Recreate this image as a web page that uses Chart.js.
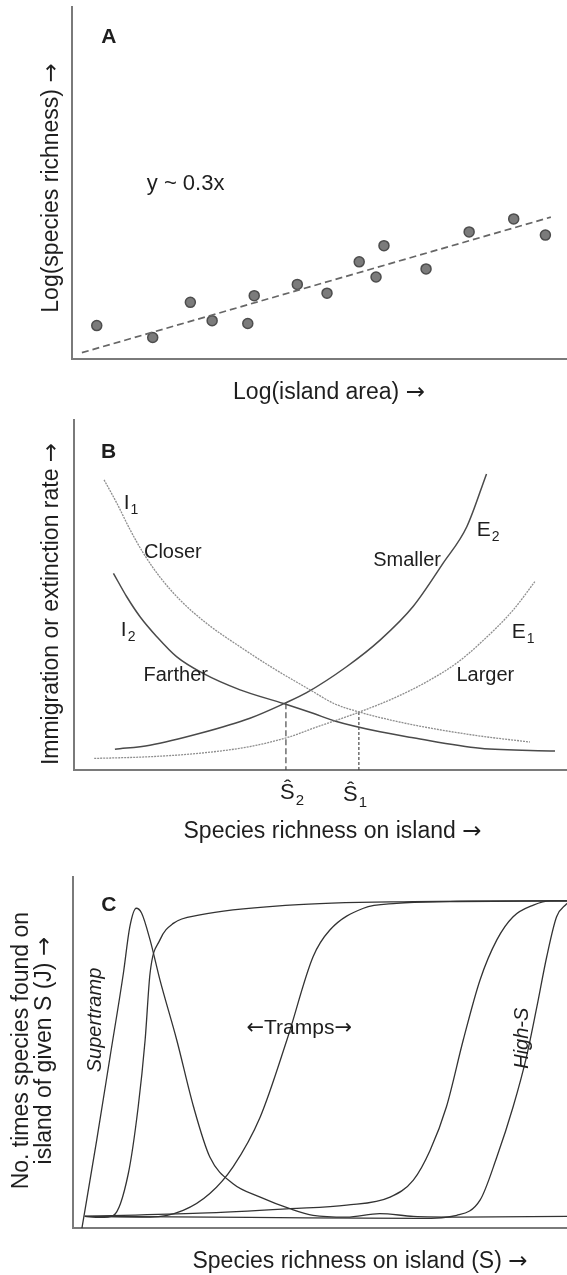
<!DOCTYPE html>
<html>
<head>
<meta charset="utf-8">
<script src="https://cdn.jsdelivr.net/npm/chart.js@4.4.1/dist/chart.umd.min.js"></script>
<style>
  html, body { margin: 0; padding: 0; background: #fff; overflow: hidden; }
  #wrap { position: relative; width: 567px; height: 1275px; overflow: hidden; }
  canvas { position: absolute; left: 0; }
</style>
</head>
<body>
<div id="wrap">
  <canvas id="chartA" width="660" height="412" style="top:0"></canvas>
  <canvas id="chartB" width="660" height="433" style="top:412px"></canvas>
  <canvas id="chartC" width="660" height="430" style="top:845px"></canvas>
</div>
<script>
// ---- Panel A: species-area scatter (arbitrary log units) ----
const areaLog = [5.0, 16.3, 23.9, 28.3, 35.5, 36.8, 45.5, 51.5, 58.0, 61.4, 63.0, 71.5, 80.2, 89.2, 95.6];
const richLog = [9.5, 6.1, 16.1, 10.9, 10.1, 18.0, 21.2, 18.7, 27.6, 23.3, 32.2, 25.6, 36.1, 39.8, 35.2];
const fitX = [2.0, 96.7];
const fitY = [1.8, 40.3];

// ---- Panel B: immigration / extinction curves ----
const i1X = [6.1, 8.7, 11.4, 14.1, 17.4, 21.5, 26.9, 33.7, 40.4, 47.9, 52.9, 57.8, 65.1, 72.2, 82.4, 92.5];
const i1Y = [82.9, 76.2, 68.6, 61.9, 55.2, 48.6, 41.9, 35.2, 29.1, 22.9, 18.9, 16.6, 14.0, 12.0, 9.7, 8.0];
const i2X = [8.0, 10.7, 13.4, 16.8, 20.8, 26.2, 33.7, 42.5, 48.5, 52.9, 62.1, 68.8, 82.4, 97.6];
const i2Y = [56.2, 49.5, 43.8, 38.1, 32.4, 27.6, 22.9, 19.0, 16.2, 14.0, 10.9, 9.2, 6.2, 5.4];
const e2X = [8.3, 15.4, 25.6, 35.7, 42.8, 47.2, 55.3, 62.1, 68.8, 74.9, 79.7, 83.7];
const e2Y = [5.9, 7.1, 10.5, 14.8, 19.1, 22.1, 29.5, 37.1, 46.7, 59.1, 69.5, 84.6];
const e1X = [4.1, 15.4, 25.6, 35.7, 43.8, 48.5, 57.8, 65.5, 72.2, 77.6, 82.4, 89.1, 93.5];
const e1Y = [3.3, 3.8, 4.8, 6.7, 9.5, 11.9, 16.5, 20.9, 25.7, 30.5, 36.2, 45.7, 53.8];
const eqX = [43.0, 57.8];          // equilibria S2, S1
const eqY = [19.1, 16.6];
const eqLabels = ['Ŝ', 'Ŝ'];
const eqSubs = ['2', '1'];

// ---- Panel C: incidence functions ----
const superX = [1.8, 4.8, 7.5, 10.2, 11.5, 12.8, 13.9, 15.6, 17.6, 21.0, 24.4, 27.7, 32.4, 37.9, 43.9, 48.6, 55.4, 62.1, 68.9, 78.3, 100];
const superY = [0, 25.1, 48.8, 72.6, 85.8, 91.1, 89.7, 82.1, 70.7, 53.6, 34.6, 20.3, 12.7, 8.9, 5.6, 3.7, 3.2, 4.2, 3.4, 3.2, 3.4];
const tramp1X = [2.4, 5.5, 8.2, 11.2, 13.2, 14.6, 15.6, 17.6, 20.3, 25.7, 43.9, 68.9, 95.9, 100];
const tramp1Y = [3.4, 3.1, 3.7, 15.6, 34.6, 53.6, 72.6, 82.1, 86.8, 89.2, 92.0, 93.0, 93.2, 93.2];
const tramp2X = [2.4, 15.6, 22.3, 27.7, 32.4, 37.9, 43.3, 48.6, 52.0, 58.8, 65.5, 76.3, 100];
const tramp2Y = [3.4, 3.2, 5.1, 9.9, 17.5, 31.7, 53.6, 77.3, 84.9, 91.1, 92.5, 93.0, 93.2];
const tramp3X = [2.4, 25.7, 43.9, 55.4, 64.2, 68.9, 72.3, 75.6, 79.0, 82.4, 85.8, 89.1, 93.2, 96.6, 100];
const tramp3Y = [3.4, 4.3, 5.6, 6.6, 8.9, 13.7, 22.2, 34.6, 53.6, 70.7, 82.1, 88.7, 92.0, 93.2, 93.2];
const highX = [2.4, 35.8, 70.2, 77.7, 82.4, 85.8, 89.1, 91.8, 93.9, 95.9, 97.9, 100];
const highY = [3.4, 3.1, 2.8, 3.7, 8.0, 20.3, 34.6, 48.8, 63.0, 77.3, 88.7, 92.5];

const FONT = "'Liberation Sans', Arial, Helvetica, sans-serif";
const ARROW_FONT = "'DejaVu Sans', sans-serif";
const TEXT = '#1e1e1e';
const AXIS = '#7a7a7a';
const DARK = '#4a4a4a';
const LIGHT = '#8e8e8e';

const pts = (xs, ys) => xs.map((x, i) => ({ x: x, y: ys[i] }));

// text with arrows drawn in a font whose arrow glyph is bigger
function drawMixed(ctx, text, size, style, align) {
  const runs = text.split(/([←→])/).filter(Boolean).map(s => ({
    s: s, font: (/[←→]/.test(s) ? '' : style) + ' ' + size + 'px ' + (/[←→]/.test(s) ? ARROW_FONT : FONT)
  }));
  let total = 0;
  runs.forEach(r => { ctx.font = r.font; r.w = ctx.measureText(r.s).width; total += r.w; });
  let x = align === 'center' ? -total / 2 : 0;
  ctx.textAlign = 'left';
  runs.forEach(r => { ctx.font = r.font; ctx.fillText(r.s, x, 0); x += r.w; });
  return total;
}

// free text labels at data coordinates (panel letters, curve names)
function notes(items) {
  return {
    id: 'notes',
    afterDraw(chart) {
      const { ctx, scales: { x, y } } = chart;
      items.forEach(n => {
        ctx.save();
        ctx.translate(x.getPixelForValue(n.x), y.getPixelForValue(n.y));
        if (n.rotate) ctx.rotate(-Math.PI / 2);
        ctx.fillStyle = TEXT;
        ctx.textBaseline = 'middle';
        const w = drawMixed(ctx, n.text, n.size, (n.style || '') + ' ' + (n.weight || ''), n.align);
        if (n.sub) {
          ctx.font = Math.round(n.size * 0.66) + 'px ' + FONT;
          ctx.fillText(n.sub, w + 1, n.size * 0.36);
        }
        ctx.restore();
      });
    }
  };
}

// axis titles, placed relative to the chart area
function titles(t) {
  return {
    id: 'titles',
    afterDraw(chart) {
      const { ctx, chartArea: a } = chart;
      ctx.save();
      ctx.fillStyle = TEXT;
      ctx.textBaseline = 'middle';
      ctx.save();
      ctx.translate((a.left + a.right) / 2, a.bottom + t.xGap);
      drawMixed(ctx, t.x, 23, '', 'center');
      ctx.restore();
      t.y.forEach((line, i) => {
        ctx.save();
        ctx.translate(a.left - t.yGap + i * 23.3, (a.top + a.bottom) / 2 + t.yShift);
        ctx.rotate(-Math.PI / 2);
        drawMixed(ctx, line, 23, '', 'center');
        ctx.restore();
      });
      ctx.restore();
    }
  };
}

function options(cfg) {
  return {
    responsive: false,
    animation: false,
    events: [],
    layout: { padding: cfg.layout },
    plugins: { legend: { display: false }, tooltip: { enabled: false } },
    scales: {
      x: {
        type: 'linear', min: 0, max: cfg.xMax,
        grid: { display: false, drawTicks: false },
        ticks: { display: false },
        border: { display: true, color: AXIS, width: 2 }
      },
      y: {
        type: 'linear', min: 0, max: 100,
        grid: { display: false, drawTicks: false },
        ticks: { display: false },
        border: { display: true, color: AXIS, width: 2 }
      }
    }
  };
}

function curve(xs, ys, color, width, dash) {
  return {
    data: pts(xs, ys), showLine: true, pointRadius: 0,
    borderColor: color, borderWidth: width, borderDash: dash || [],
    cubicInterpolationMode: 'monotone', fill: false
  };
}

// ----- A -----
new Chart(document.getElementById('chartA'), {
  type: 'scatter',
  data: {
    datasets: [
      {
        data: pts(fitX, fitY), showLine: true, pointRadius: 0,
        borderColor: '#666', borderWidth: 1.7, borderDash: [7, 4]
      },
      {
        data: pts(areaLog, richLog), showLine: false,
        pointRadius: 5, backgroundColor: '#7b7b7b',
        borderColor: '#4d4d4d', borderWidth: 1.5
      }
    ]
  },
  options: options({ xMax: 103.8, layout: { top: 7, right: 74, left: 72, bottom: 53 } }),
  plugins: [
    titles({ x: 'Log(island area) →', xGap: 34, y: ['Log(species richness) →'], yGap: 20.3, yShift: 5 }),
    notes([
      { text: 'A', x: 5.9, y: 91.5, size: 21, weight: 'bold' },
      { text: 'y ~ 0.3x', x: 15.1, y: 49.7, size: 22 }
    ])
  ]
});

// ----- B -----
new Chart(document.getElementById('chartB'), {
  type: 'scatter',
  data: {
    datasets: [
      curve(i1X, i1Y, LIGHT, 1.3, [2, 1]),
      curve(e1X, e1Y, LIGHT, 1.3, [2, 1]),
      curve(i2X, i2Y, DARK, 1.5),
      curve(e2X, e2Y, DARK, 1.5),
      { data: [{ x: eqX[0], y: eqY[0] }, { x: eqX[0], y: 0 }], showLine: true, pointRadius: 0,
        borderColor: DARK, borderWidth: 1.2, borderDash: [6, 3] },
      { data: [{ x: eqX[1], y: eqY[1] }, { x: eqX[1], y: 0 }], showLine: true, pointRadius: 0,
        borderColor: DARK, borderWidth: 1.2, borderDash: [3, 2] }
    ]
  },
  options: options({ xMax: 104.9, layout: { top: 8, right: 69, left: 74, bottom: 75 } }),
  plugins: [
    titles({ x: 'Species richness on island →', xGap: 61.7, y: ['Immigration or extinction rate →'], yGap: 22.3, yShift: 9 }),
    notes([
      { text: 'B', x: 5.5, y: 90.9, size: 21, weight: 'bold' },
      { text: 'I', sub: '1', x: 10.1, y: 76.3, size: 21 },
      { text: 'Closer', x: 14.2, y: 62.1, size: 20 },
      { text: 'I', sub: '2', x: 9.5, y: 40.0, size: 21 },
      { text: 'Farther', x: 14.1, y: 26.9, size: 20 },
      { text: 'Smaller', x: 60.7, y: 60.0, size: 20 },
      { text: 'E', sub: '2', x: 81.7, y: 68.6, size: 21 },
      { text: 'E', sub: '1', x: 88.8, y: 39.5, size: 21 },
      { text: 'Larger', x: 77.6, y: 26.9, size: 20 },
      { text: eqLabels[0], sub: eqSubs[0], x: 41.8, y: -6.6, size: 22 },
      { text: eqLabels[1], sub: eqSubs[1], x: 54.6, y: -7.0, size: 22 }
    ])
  ]
});

// ----- C -----
new Chart(document.getElementById('chartC'), {
  type: 'scatter',
  data: {
    datasets: [
      curve(superX, superY, '#333', 1.3),
      curve(tramp1X, tramp1Y, '#333', 1.3),
      curve(tramp2X, tramp2Y, '#333', 1.3),
      curve(tramp3X, tramp3Y, '#333', 1.3),
      curve(highX, highY, '#333', 1.3)
    ]
  },
  options: options({ xMax: 116.2, layout: { top: 32, right: 13, left: 73, bottom: 46.7 } }),
  plugins: [
    titles({ x: 'Species richness on island (S) →', xGap: 33.4,
             y: ['No. times species found on', 'island of given S (J) →'], yGap: 51.3, yShift: -2 }),
    notes([
      { text: 'C', x: 5.7, y: 92.0, size: 21, weight: 'bold' },
      { text: 'Supertramp', x: 4.5, y: 59.3, size: 20, style: 'italic', rotate: true, align: 'center' },
      { text: '←Tramps→', x: 45.8, y: 56.9, size: 21, align: 'center' },
      { text: 'High-S', x: 91.0, y: 54.1, size: 20, style: 'italic', rotate: true, align: 'center' }
    ])
  ]
});
</script>
</body>
</html>
